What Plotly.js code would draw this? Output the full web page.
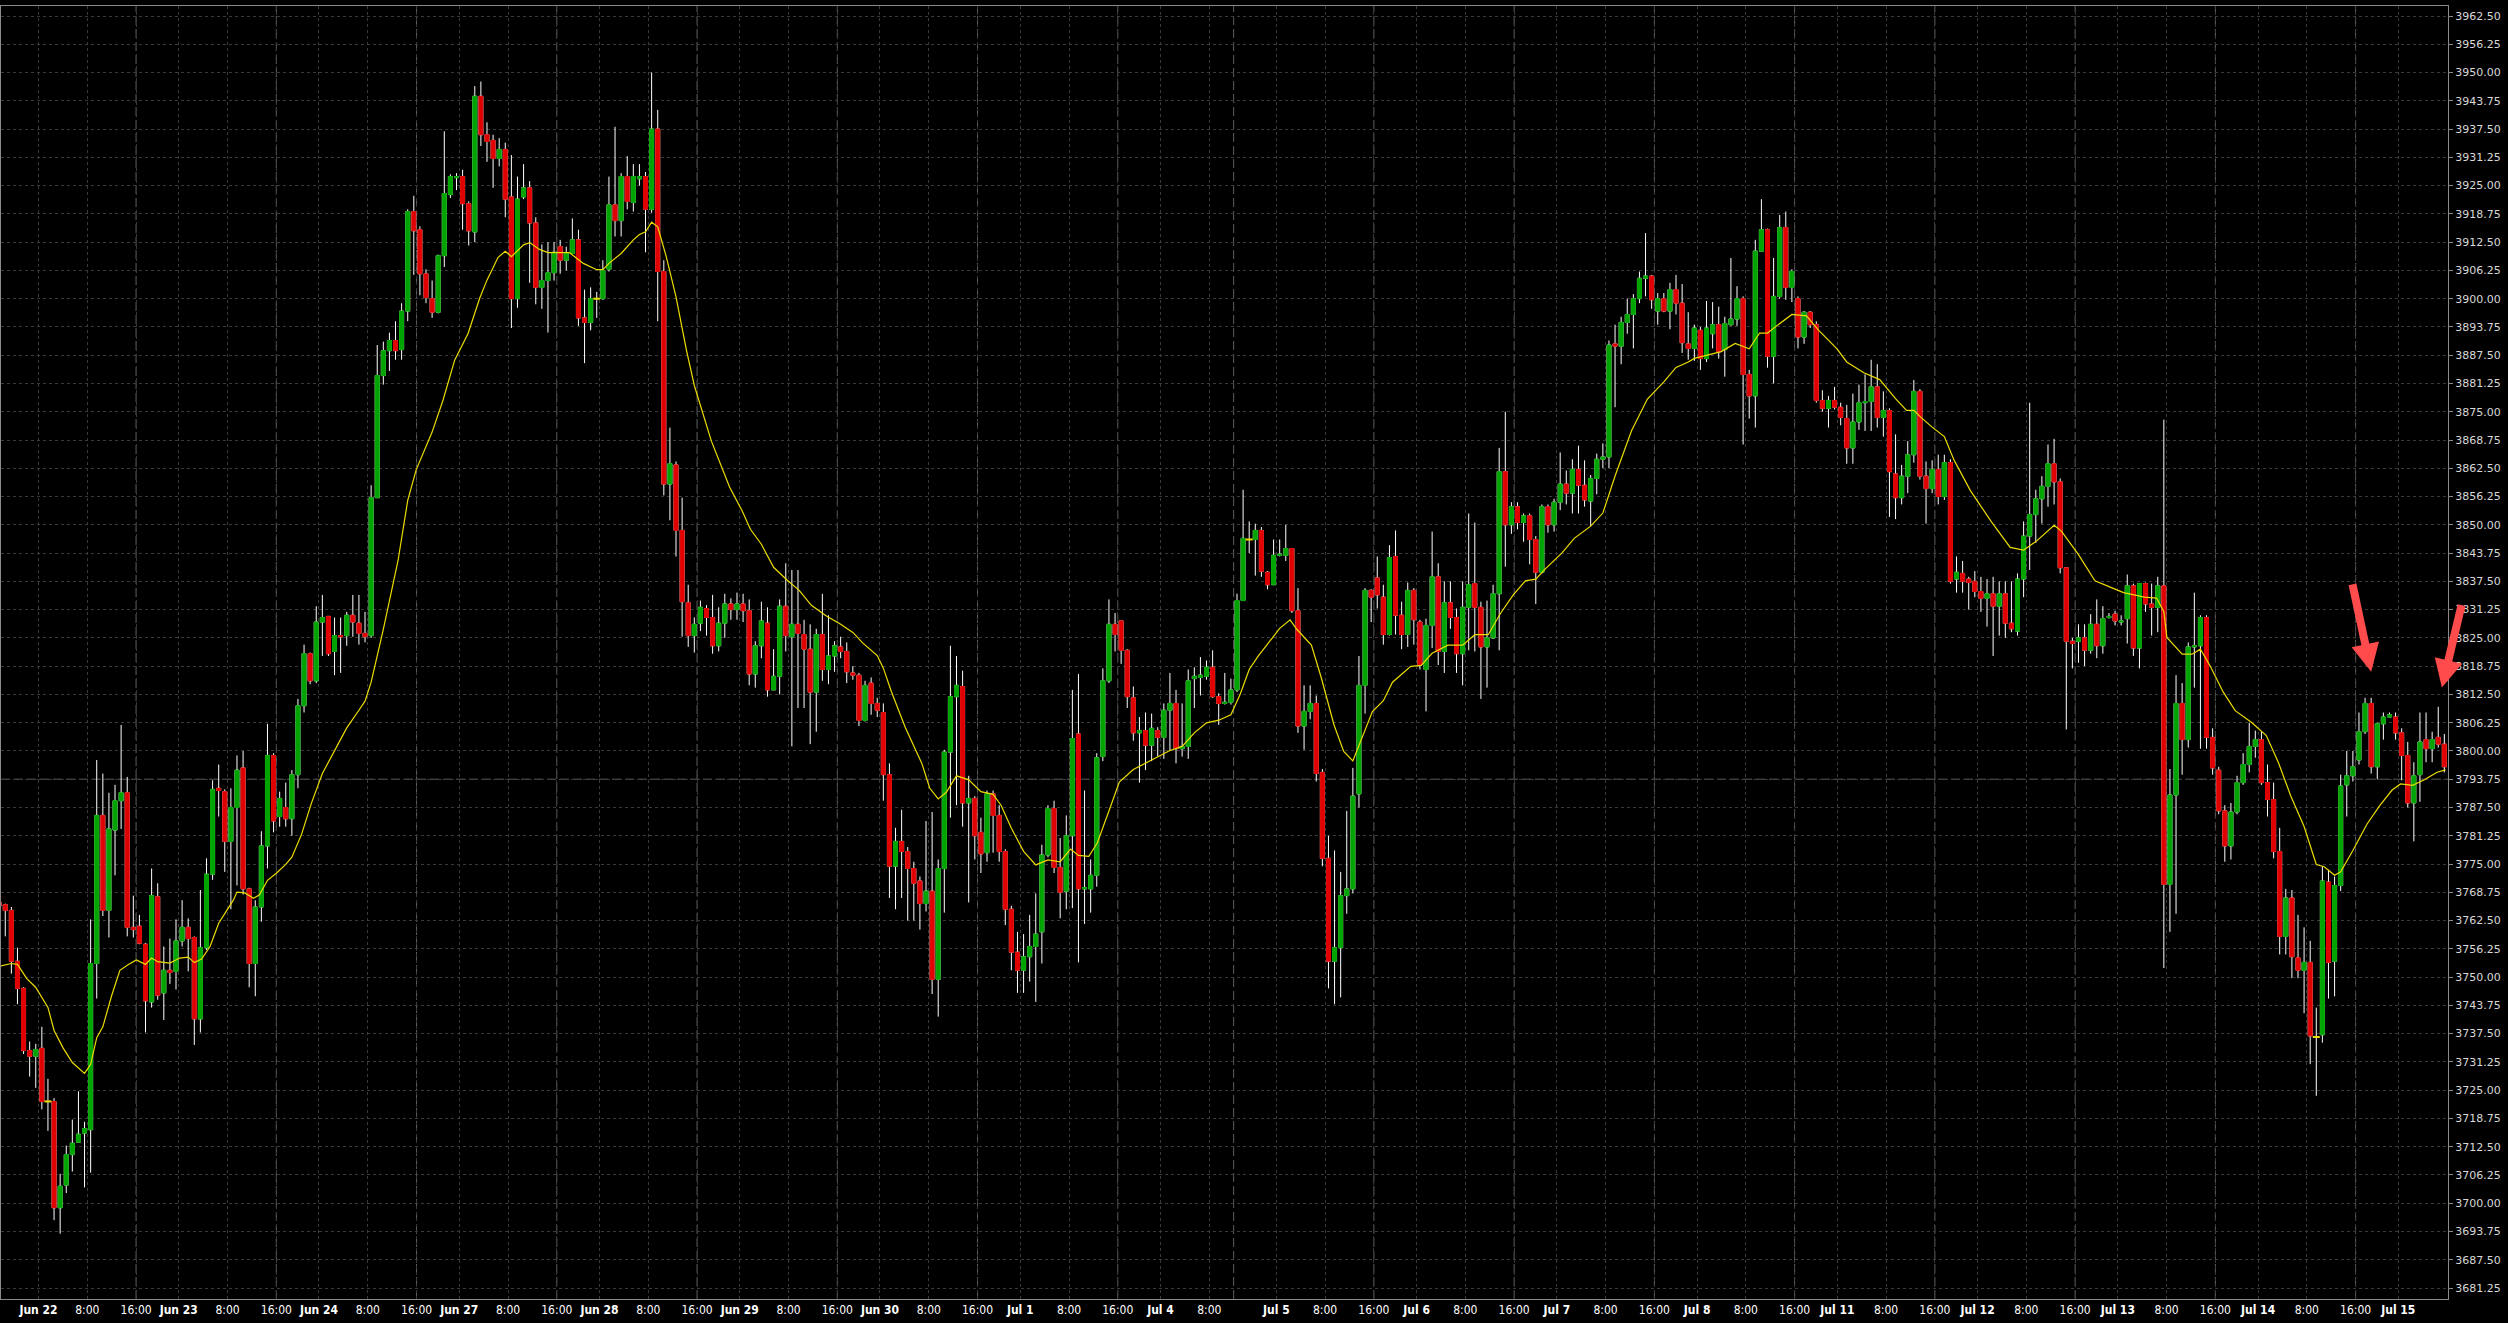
<!DOCTYPE html>
<html><head><meta charset="utf-8">
<script src="https://cdn.plot.ly/plotly-3.0.1.min.js"></script>
<style>html,body{margin:0;padding:0;background:#000;}#chart{width:2508px;height:1323px;}</style>
</head><body><div id="chart"></div>
<script>
// hourly bars, index -1 .. 400
const firstBar = -1;
const openP = [3766.5,
3766.0,3764.75,3753.5,3747.5,3733.75,3732.5,3734.25,3722.5,3722.5,3699.0,
3704.0,3710.75,3713.5,3715.5,3716.25,3753.0,3785.75,3764.75,3782.5,3789.0,
3790.75,3761.0,3761.25,3757.25,3744.5,3767.75,3746.5,3751.5,3751.25,3758.0,
3761.0,3758.75,3740.75,3756.5,3772.75,3791.75,3791.0,3780.0,3787.5,3796.25,
3769.5,3753.0,3765.5,3779.0,3799.0,3785.5,3787.5,3785.0,3794.75,3810.0,
3821.5,3815.5,3828.5,3829.75,3822.0,3825.5,3825.5,3830.0,3828.25,3826.0,
3825.5,3856.0,3883.0,3888.5,3890.75,3888.75,3897.25,3919.25,3915.25,3905.5,
3900.0,3897.0,3909.5,3923.0,3926.75,3927.0,3921.0,3914.75,3944.75,3936.25,
3935.0,3931.0,3933.0,3922.5,3900.0,3922.5,3924.5,3916.75,3902.5,3904.0,
3905.75,3911.5,3908.5,3910.0,3913.0,3895.75,3894.75,3900.0,3900.0,3906.5,
3920.75,3917.25,3927.0,3921.25,3926.5,3927.0,3919.75,3937.5,3906.0,3859.0,
3863.25,3848.75,3832.75,3825.5,3828.25,3831.5,3829.5,3823.25,3828.25,3832.5,
3831.25,3832.5,3831.0,3817.0,3823.25,3828.25,3813.5,3816.5,3832.0,3825.25,
3828.0,3825.75,3822.5,3813.0,3825.75,3818.0,3821.0,3823.0,3822.0,3817.25,
3816.75,3806.75,3815.0,3810.5,3808.5,3794.75,3774.5,3780.0,3777.75,3774.0,
3771.25,3766.25,3769.0,3749.5,3774.0,3799.75,3812.0,3814.25,3788.5,3789.5,
3782.0,3777.5,3790.5,3785.75,3777.75,3765.0,3755.5,3751.5,3754.5,3756.75,
3760.0,3777.0,3787.25,3774.25,3769.0,3781.25,3803.75,3769.5,3769.5,3772.5,
3798.75,3815.5,3828.0,3828.75,3822.25,3811.75,3804.0,3804.5,3801.25,3804.5,
3803.0,3809.0,3810.5,3800.5,3801.0,3816.0,3816.25,3816.5,3818.5,3812.0,
3810.5,3810.75,3813.5,3833.25,3846.75,3846.75,3848.75,3839.5,3836.75,3843.25,
3843.25,3844.75,3831.0,3805.5,3808.75,3810.5,3795.25,3776.25,3753.5,3756.5,
3768.0,3769.5,3790.5,3814.5,3835.5,3838.25,3834.0,3825.75,3843.0,3830.0,
3825.75,3835.5,3828.5,3818.0,3827.75,3838.5,3822.0,3832.75,3829.5,3821.5,
3831.75,3837.0,3831.75,3823.0,3825.0,3834.75,3861.75,3850.0,3854.0,3850.5,
3852.0,3846.75,3839.5,3854.0,3850.0,3855.0,3859.0,3857.0,3862.25,3858.75,
3855.25,3860.25,3864.5,3865.0,3890.0,3889.5,3894.75,3896.5,3900.0,3904.5,
3905.0,3897.25,3900.0,3897.25,3902.0,3899.0,3890.0,3889.0,3893.0,3886.75,
3892.25,3894.25,3888.75,3894.25,3895.5,3900.0,3883.25,3878.5,3910.5,3915.25,
3887.25,3900.5,3915.75,3902.5,3900.0,3891.5,3897.0,3894.25,3877.5,3875.75,
3877.5,3876.0,3873.5,3867.0,3872.75,3877.0,3877.25,3880.5,3873.75,3875.25,
3861.25,3856.0,3860.75,3865.5,3879.5,3860.75,3858.0,3862.25,3856.25,3863.75,
3838.0,3839.25,3838.0,3837.5,3835.25,3833.75,3834.75,3832.0,3834.75,3828.25,
3826.5,3838.0,3847.5,3852.25,3855.75,3858.5,3863.5,3859.5,3840.5,3824.25,
3824.25,3825.0,3822.25,3828.0,3823.25,3829.5,3830.25,3828.5,3829.25,3836.5,
3822.75,3837.0,3832.5,3831.75,3836.5,3770.5,3790.25,3810.5,3802.5,3823.0,
3823.25,3829.5,3803.0,3795.75,3786.75,3779.0,3786.5,3793.0,3797.0,3801.0,
3802.5,3793.0,3789.25,3777.75,3759.0,3767.5,3754.25,3751.5,3753.25,3736.75,
3737.25,3771.0,3753.5,3770.25,3792.5,3794.5,3798.0,3804.25,3810.5,3796.5,
3806.0,3807.5,3807.5,3804.0,3799.0,3788.5,3794.75,3802.5,3800.5,3803.0,
3801.5];
const highP = [3767.0,
3766.25,3765.5,3756.5,3747.75,3735.75,3735.25,3739.0,3727.5,3723.25,3706.5,
3712.75,3718.5,3724.75,3718.0,3762.75,3798.0,3795.0,3790.75,3792.5,3805.75,
3794.25,3768.0,3763.75,3757.5,3774.0,3770.75,3756.75,3758.5,3762.75,3767.0,
3763.0,3759.0,3769.25,3776.25,3793.5,3797.0,3791.5,3791.75,3799.0,3800.0,
3769.75,3767.0,3782.25,3806.0,3799.5,3791.0,3793.0,3795.75,3811.5,3823.5,
3821.75,3832.0,3834.5,3829.75,3829.5,3829.5,3830.75,3834.5,3834.5,3830.75,
3858.75,3889.75,3890.5,3892.5,3895.0,3899.0,3919.75,3922.75,3916.0,3906.5,
3904.0,3909.75,3937.0,3927.5,3927.75,3928.5,3921.5,3947.0,3948.0,3939.0,
3936.25,3935.5,3934.5,3931.75,3927.0,3929.75,3926.0,3918.0,3912.0,3912.5,
3912.5,3913.0,3911.5,3917.75,3915.25,3902.0,3902.5,3901.5,3908.5,3927.0,
3938.0,3927.75,3931.5,3929.75,3929.75,3928.0,3950.0,3941.75,3908.5,3871.5,
3864.0,3856.0,3836.75,3829.5,3833.25,3832.25,3834.5,3831.75,3834.75,3833.75,
3835.0,3834.75,3833.5,3824.25,3833.0,3831.75,3822.5,3833.5,3841.5,3840.0,
3840.0,3829.0,3828.0,3827.0,3834.75,3830.0,3824.25,3825.25,3824.0,3818.75,
3817.25,3815.5,3816.25,3811.75,3810.5,3797.25,3783.0,3787.0,3778.75,3775.5,
3772.25,3784.5,3786.5,3776.0,3800.25,3823.25,3821.0,3817.75,3794.5,3790.0,
3785.25,3791.25,3791.25,3788.0,3778.25,3765.75,3760.0,3759.5,3763.75,3768.5,
3779.25,3788.0,3789.0,3780.75,3785.75,3813.5,3817.0,3791.25,3776.0,3799.5,
3818.25,3833.5,3830.5,3828.75,3822.5,3814.25,3807.5,3808.5,3808.25,3805.25,
3810.5,3817.25,3813.5,3810.5,3818.0,3818.5,3820.75,3820.0,3822.25,3812.75,
3817.25,3816.0,3834.75,3857.75,3850.75,3850.25,3849.5,3839.75,3846.75,3846.75,
3850.0,3844.75,3836.0,3814.5,3814.5,3812.25,3796.0,3781.25,3778.0,3773.25,
3786.75,3796.25,3821.0,3836.0,3835.75,3843.0,3836.75,3845.5,3848.75,3833.0,
3837.25,3836.0,3829.0,3829.25,3848.5,3841.5,3837.5,3837.5,3831.5,3837.5,
3852.5,3850.5,3833.0,3833.25,3836.75,3867.0,3875.0,3855.0,3855.0,3852.5,
3852.5,3847.5,3854.5,3854.5,3855.75,3866.0,3862.0,3864.5,3867.5,3864.25,
3861.0,3865.75,3868.0,3890.75,3894.25,3896.0,3900.0,3901.0,3906.0,3914.5,
3905.25,3901.25,3901.25,3903.5,3905.25,3903.25,3897.0,3894.25,3893.75,3899.5,
3899.25,3898.25,3896.0,3909.0,3902.75,3900.5,3884.25,3913.0,3922.0,3915.5,
3909.0,3918.5,3919.25,3906.5,3900.5,3897.25,3897.25,3895.0,3879.75,3878.5,
3880.5,3877.0,3876.5,3879.0,3881.0,3883.25,3886.5,3885.5,3879.5,3875.75,
3870.0,3863.25,3868.5,3882.0,3880.0,3864.0,3864.25,3865.5,3865.5,3864.5,
3843.0,3842.0,3838.5,3839.75,3838.5,3838.0,3838.5,3837.5,3837.5,3837.5,
3839.25,3850.75,3877.0,3857.75,3860.75,3867.75,3869.0,3860.25,3840.5,3825.0,
3828.0,3828.0,3830.25,3833.5,3832.0,3830.5,3831.0,3830.0,3839.0,3837.0,
3837.0,3837.25,3837.0,3838.5,3873.25,3796.0,3816.75,3815.0,3824.0,3835.0,
3830.0,3830.0,3805.0,3796.5,3788.0,3788.5,3794.5,3799.5,3806.25,3804.5,
3804.25,3797.0,3793.0,3783.0,3769.5,3769.25,3763.75,3761.0,3758.0,3743.25,
3774.5,3773.75,3772.25,3794.75,3800.0,3800.0,3808.5,3811.75,3811.75,3806.25,
3808.5,3808.5,3808.5,3805.0,3802.0,3797.5,3808.5,3808.5,3804.25,3809.75,
3803.75];
const lowP = [3765.5,
3759.0,3750.75,3744.0,3733.0,3728.0,3725.5,3720.75,3716.0,3696.25,3693.25,
3702.25,3707.0,3713.5,3703.5,3706.75,3745.25,3763.5,3758.75,3772.5,3782.75,
3759.0,3758.75,3757.25,3737.75,3743.25,3745.0,3740.5,3748.5,3747.25,3756.75,
3751.25,3735.0,3737.75,3756.0,3771.5,3785.5,3773.25,3765.0,3770.25,3768.25,
3747.75,3745.75,3762.25,3774.0,3782.0,3783.25,3783.25,3781.25,3791.75,3808.5,
3814.75,3815.0,3821.0,3821.0,3816.75,3817.25,3823.25,3825.25,3823.5,3824.0,
3825.0,3856.0,3881.0,3884.0,3886.5,3886.5,3895.0,3905.25,3900.75,3899.0,
3895.75,3896.75,3907.0,3922.25,3924.0,3915.25,3911.75,3912.5,3933.75,3930.25,
3924.5,3929.25,3918.0,3893.5,3898.0,3922.0,3903.5,3898.75,3897.75,3892.5,
3904.0,3905.5,3906.25,3909.75,3894.0,3885.75,3893.0,3895.75,3899.75,3906.0,
3913.75,3913.75,3919.75,3919.25,3925.0,3910.25,3919.0,3895.0,3856.5,3851.0,
3843.0,3825.25,3823.0,3821.75,3826.5,3825.5,3821.5,3822.0,3825.0,3829.0,
3829.0,3828.5,3814.5,3814.0,3820.5,3812.0,3813.5,3812.5,3822.0,3801.0,
3809.5,3809.5,3801.5,3804.25,3815.5,3814.75,3817.5,3820.5,3815.0,3815.75,
3805.5,3806.5,3808.0,3807.5,3789.0,3767.5,3765.0,3767.5,3762.5,3762.5,
3760.5,3764.5,3746.25,3741.25,3764.25,3785.25,3788.0,3783.25,3766.5,3776.0,
3773.0,3775.5,3777.5,3775.5,3761.5,3751.5,3746.5,3746.5,3749.0,3744.5,
3753.0,3776.5,3773.0,3763.0,3765.0,3765.25,3753.25,3761.75,3764.25,3770.0,
3797.75,3815.0,3822.0,3819.25,3809.5,3802.25,3793.0,3795.75,3797.75,3798.75,
3798.25,3800.0,3797.25,3798.75,3798.25,3809.5,3812.25,3815.75,3811.75,3805.75,
3810.25,3810.25,3813.0,3833.25,3843.75,3838.75,3838.5,3835.75,3836.75,3843.0,
3842.0,3830.5,3804.0,3800.25,3807.0,3793.25,3774.5,3747.5,3744.0,3745.5,
3764.0,3768.5,3787.5,3808.25,3828.5,3831.5,3823.5,3825.5,3825.75,3822.5,
3823.0,3823.5,3818.0,3808.75,3822.75,3819.0,3817.25,3827.0,3817.25,3814.5,
3822.25,3822.0,3811.5,3814.0,3824.75,3822.25,3840.75,3848.0,3849.0,3846.25,
3841.25,3832.5,3839.25,3848.25,3848.5,3853.25,3854.5,3852.5,3852.5,3854.0,
3849.75,3856.75,3862.5,3862.5,3876.0,3885.5,3892.25,3889.0,3899.0,3900.5,
3897.75,3894.25,3897.0,3893.25,3896.5,3888.0,3886.5,3886.25,3884.25,3886.0,
3889.0,3886.75,3882.75,3894.0,3894.0,3867.75,3873.5,3871.5,3910.5,3884.75,
3881.25,3900.0,3899.75,3899.25,3889.0,3890.0,3893.5,3877.0,3875.0,3871.5,
3875.5,3872.0,3863.5,3863.5,3871.0,3870.75,3870.75,3871.5,3869.5,3851.75,
3851.25,3854.5,3857.0,3863.75,3860.0,3850.25,3857.0,3854.5,3855.5,3837.0,
3835.0,3835.0,3831.25,3834.0,3830.75,3827.5,3821.0,3825.5,3825.0,3826.25,
3825.5,3834.0,3840.0,3846.0,3850.25,3854.0,3854.5,3839.25,3804.75,3818.25,
3819.5,3818.75,3821.5,3820.5,3821.5,3829.25,3827.75,3827.75,3823.75,3821.0,
3818.25,3830.75,3825.5,3826.25,3752.0,3760.0,3764.0,3794.75,3800.75,3814.0,
3800.5,3800.5,3794.75,3786.0,3775.5,3776.0,3786.0,3792.5,3795.25,3798.5,
3792.5,3785.5,3776.25,3755.0,3755.0,3749.75,3749.75,3742.0,3730.75,3723.75,
3735.5,3745.25,3745.75,3769.0,3785.5,3793.25,3797.0,3803.75,3795.0,3793.75,
3802.5,3807.5,3802.5,3793.5,3787.5,3780.0,3788.75,3797.5,3797.5,3800.75,
3795.25];
const closeP = [3765.75,
3764.75,3753.5,3747.5,3733.75,3732.5,3734.0,3722.5,3722.5,3699.0,3703.75,
3710.75,3713.25,3715.25,3716.5,3753.0,3785.75,3764.75,3782.75,3789.0,3790.75,
3761.0,3760.5,3757.5,3744.75,3768.0,3746.0,3751.5,3751.0,3758.0,3761.0,
3758.5,3740.75,3756.5,3772.75,3791.5,3791.25,3780.0,3787.5,3795.75,3769.5,
3753.0,3765.5,3779.0,3799.0,3784.5,3789.5,3785.0,3794.75,3810.0,3821.5,
3815.5,3828.5,3829.5,3821.5,3825.5,3825.25,3830.0,3828.5,3826.0,3825.25,
3856.0,3883.0,3888.5,3890.75,3888.5,3897.25,3919.25,3915.0,3905.5,3900.25,
3897.0,3909.5,3923.25,3927.0,3927.0,3921.0,3915.0,3944.75,3936.25,3934.75,
3931.0,3933.0,3922.0,3900.0,3922.0,3924.5,3916.75,3902.5,3904.0,3905.75,
3910.25,3908.5,3910.0,3913.0,3895.75,3894.75,3900.0,3900.0,3906.25,3920.75,
3917.25,3927.0,3921.5,3927.0,3927.0,3919.75,3937.5,3906.0,3859.0,3863.5,
3848.75,3833.0,3825.5,3828.0,3831.75,3829.5,3823.25,3828.25,3832.5,3831.25,
3832.5,3831.0,3817.0,3823.25,3828.75,3813.5,3816.5,3832.0,3825.5,3828.0,
3826.0,3822.5,3813.0,3825.75,3818.0,3821.0,3823.25,3822.0,3817.5,3816.75,
3806.75,3814.5,3810.5,3809.0,3794.75,3774.5,3780.0,3777.75,3774.0,3770.75,
3766.25,3769.0,3749.5,3774.0,3799.75,3812.0,3814.5,3788.5,3789.5,3781.25,
3777.25,3790.5,3785.75,3777.75,3765.0,3755.5,3751.5,3754.5,3756.75,3759.5,
3777.0,3787.25,3774.25,3768.75,3781.25,3802.75,3769.5,3769.75,3772.5,3798.5,
3815.5,3828.0,3825.75,3822.25,3812.0,3804.0,3804.5,3801.25,3805.0,3803.0,
3809.0,3810.5,3800.5,3801.0,3815.5,3816.5,3816.75,3818.5,3812.0,3810.5,
3810.75,3813.5,3833.25,3847.0,3846.75,3848.75,3839.75,3836.75,3843.25,3843.5,
3844.75,3831.0,3805.5,3808.75,3810.5,3795.0,3776.25,3753.5,3756.5,3768.0,
3769.5,3790.0,3814.5,3835.5,3834.0,3834.5,3825.75,3842.75,3830.0,3825.75,
3835.5,3829.0,3819.0,3827.75,3838.5,3822.0,3832.75,3829.5,3821.5,3831.75,
3836.75,3831.75,3823.0,3825.0,3834.75,3861.75,3850.0,3854.0,3850.5,3852.0,
3846.75,3839.5,3854.0,3850.0,3855.0,3859.0,3857.0,3862.25,3858.75,3855.5,
3860.25,3864.5,3865.0,3889.75,3889.5,3894.75,3896.5,3900.0,3904.5,3905.0,
3899.75,3900.0,3897.25,3902.0,3899.0,3890.25,3889.0,3893.5,3886.75,3893.5,
3894.25,3888.25,3894.5,3895.5,3900.0,3883.25,3878.5,3910.5,3915.25,3887.25,
3900.5,3915.75,3902.5,3906.0,3891.5,3897.0,3894.25,3877.5,3875.75,3877.5,
3876.0,3873.75,3867.0,3872.75,3877.0,3877.25,3880.5,3873.75,3875.25,3861.75,
3856.0,3860.75,3865.5,3879.5,3860.75,3858.0,3862.25,3856.25,3863.75,3837.5,
3839.5,3837.5,3837.25,3835.25,3833.75,3834.75,3832.0,3834.75,3828.25,3827.0,
3838.0,3847.5,3852.25,3855.75,3858.5,3863.5,3859.5,3840.5,3824.25,3823.75,
3825.0,3822.25,3828.0,3823.25,3829.25,3829.75,3828.75,3828.75,3836.5,3822.75,
3837.0,3832.5,3831.75,3836.5,3770.5,3790.25,3810.5,3802.5,3823.0,3823.25,
3829.5,3803.0,3796.25,3786.75,3779.0,3786.5,3793.0,3797.0,3801.0,3802.5,
3793.0,3789.25,3777.75,3759.0,3767.5,3754.5,3751.5,3753.25,3737.0,3736.75,
3771.25,3753.25,3770.25,3792.25,3794.5,3796.5,3804.25,3810.5,3796.5,3806.0,
3807.5,3808.0,3804.0,3799.0,3788.5,3794.5,3802.0,3800.5,3802.5,3801.5,
3796.5];

// moving average (bar position, value)
const maBar = [-0.9,1,2,3.5,5,7,8,9.5,11,13,14,15,16,17.4,18.8,20.2,21.5,23,24,25,
27,28.6,30,31,32.2,33.6,35,36.3,37.4,38,39.3,40.7,41.7,43,44.5,46,47,48.6,50.2,52,
54,56,58,59,60,62,64.4,66,67.4,70,71.8,73.7,75.9,77.8,79,80.8,82,83,85,86,
87.6,89,92.5,94.8,97,98,99,101,103,104,105,106,107,108.4,110,111.7,113,115.8,118.8,120.8,
122.2,124,126,128.2,130.2,132.2,134.6,137,139,140.6,143,144,145.3,147.6,150.3,151.6,153,154.3,156,158,
160,162,163.3,165,167,169,171,173,174.7,176,177.7,179.1,181.1,182.7,185,187,189,191,193,195,
197,199,201,202.5,204,205.5,207,209,210.7,211.8,214.2,215.8,217.9,219.5,221,222.5,224.2,226,227.5,230.5,
232.2,234,236.6,239,241,243.2,245.2,247.3,249.3,251,252.6,255.3,257.3,260,262,264,266.7,269.3,272,274,
276,277,279,281.4,283.7,286,287.7,289,290.7,293,295.4,297.4,300.4,302,304.8,307.4,310,311.8,313,314.2,
316,318,319.6,322.3,325.7,328.8,331,333.2,336,337.2,340,342.7,345.4,347.4,350.8,352.8,354,354.5,357,358.6,
360,361.6,363.7,365.7,368.4,370.8,372.8,374.8,377,379,380.3,382,383,385,387.3,389.4,391.4,392.8,394.8,396.8,
398.8,400.2];
const maVal = [3752.4,3753.0,3752.8,3749.7,3747.7,3743.3,3738.2,3734.3,3731.1,3728.7,3730.7,3736.6,3739.0,3745.7,3751.5,3752.8,3753.8,3752.8,3754.2,3753.4,
3753.1,3754.2,3754.4,3753.2,3754.0,3756.8,3761.9,3764.7,3767.0,3768.8,3768.6,3767.4,3768.2,3771.4,3773.0,3774.9,3776.5,3781.6,3788.4,3795.0,
3800.0,3805.1,3809.0,3811.0,3815.2,3826.9,3842.0,3855.4,3862.2,3870.5,3877.6,3886.4,3892.3,3900.1,3904.1,3909.1,3910.5,3909.3,3911.9,3912.4,
3910.9,3910.2,3910.2,3907.8,3906.4,3906.4,3907.8,3910.0,3913.0,3914.2,3914.8,3916.9,3915.9,3909.3,3900.4,3888.7,3880.8,3868.5,3858.3,3853.2,
3849.0,3845.7,3840.6,3837.8,3835.5,3832.2,3829.9,3828.0,3826.2,3823.9,3821.1,3818.3,3813.2,3805.2,3797.3,3791.8,3789.4,3790.8,3794.5,3793.6,
3791.0,3790.4,3788.0,3782.9,3777.8,3774.8,3775.9,3775.5,3778.3,3776.9,3776.7,3779.7,3787.1,3793.1,3795.9,3797.3,3798.7,3800.1,3801.0,3804.0,
3806.2,3806.8,3808.0,3812.5,3818.0,3821.0,3823.6,3827.1,3829.0,3826.9,3823.4,3816.3,3805.8,3799.9,3797.8,3802.9,3808.7,3811.1,3815.2,3818.7,
3818.9,3821.6,3823.4,3823.4,3825.7,3825.7,3830.4,3834.5,3837.6,3838.0,3840.3,3843.8,3847.0,3849.7,3852.6,3860.8,3870.8,3877.8,3881.6,3884.8,
3886.0,3886.8,3887.5,3888.3,3890.1,3888.9,3892.4,3892.4,3894.2,3896.5,3896.2,3893.0,3888.9,3886.0,3883.6,3882.1,3877.9,3875.3,3875.3,3873.7,
3871.6,3869.5,3864.3,3857.5,3850.7,3845.0,3844.4,3846.5,3849.9,3848.6,3843.4,3837.6,3836.1,3835.0,3834.0,3833.8,3830.8,3825.1,3821.4,3821.4,
3822.5,3818.8,3813.1,3808.9,3806.3,3803.4,3797.4,3790.1,3783.3,3774.9,3774.4,3772.5,3773.3,3778.0,3783.8,3787.9,3791.3,3792.7,3792.4,3793.7,
3795.3,3795.8];

// time axis labels (bar index of each labelled hour)
const tickBars = [5,13,21,28,36,44,51,59,67,74,82,90,97,105,113,120,128,136,143,151,159,166,174,182,189,197,
208,216,224,231,239,247,254,262,270,277,285,293,300,308,316,323,331,339,346,354,362,369,377,385,392];
const tickLabels = ['Jun 22','8:00','16:00','Jun 23','8:00','16:00','Jun 24','8:00','16:00','Jun 27','8:00','16:00',
'Jun 28','8:00','16:00','Jun 29','8:00','16:00','Jun 30','8:00','16:00','Jul 1','8:00','16:00','Jul 4','8:00',
'Jul 5','8:00','16:00','Jul 6','8:00','16:00','Jul 7','8:00','16:00','Jul 8','8:00','16:00','Jul 11','8:00','16:00',
'Jul 12','8:00','16:00','Jul 13','8:00','16:00','Jul 14','8:00','16:00','Jul 15'];
// last bar of each session (period separators)
const sessionEnds = [21,44,67,90,113,136,159,182,201,224,247,270,293,316,339,362,385];
const levelLine = 3793.75;
// red arrow markers: tip bar, tip price
const arrowBars = [388.0, 399.6];
const arrowPrices = [3817.5, 3814.0];

const GREEN = '#00a400', RED = '#e00000', MA_COLOR = '#ecdc00';
const TICK_SHIFT = 0.45;

const xs = openP.map((_, i) => firstBar + i);
const bodyHigh = openP.map((o, i) => Math.max(o, closeP[i]));
const bodyLow = openP.map((o, i) => Math.min(o, closeP[i]));
const dojiX = [], dojiY = [];
openP.forEach((o, i) => { if (o === closeP[i]) { dojiX.push(xs[i]); dojiY.push(o); } });

const traces = [
  { type: 'candlestick', x: xs, open: openP, high: highP, low: lowP, close: closeP,
    increasing: { line: { color: '#ffffff', width: 1 }, fillcolor: '#ffffff' },
    decreasing: { line: { color: '#ffffff', width: 1 }, fillcolor: '#ffffff' },
    whiskerwidth: 0, hoverinfo: 'skip', showlegend: false },
  { type: 'candlestick', x: xs, open: openP, high: bodyHigh, low: bodyLow, close: closeP,
    increasing: { line: { color: GREEN, width: 1 }, fillcolor: GREEN },
    decreasing: { line: { color: RED, width: 1 }, fillcolor: RED },
    whiskerwidth: 0, hoverinfo: 'skip', showlegend: false },
  { type: 'scatter', mode: 'lines', x: maBar, y: maVal,
    line: { color: MA_COLOR, width: 1.2 }, hoverinfo: 'skip', showlegend: false },
  { type: 'scatter', mode: 'markers', x: dojiX, y: dojiY,
    marker: { symbol: 'line-ew', size: 5, line: { color: MA_COLOR, width: 2 } },
    hoverinfo: 'skip', showlegend: false }
];

const shapes = sessionEnds.map(b => ({
  type: 'line', xref: 'x', yref: 'paper', x0: b + TICK_SHIFT, x1: b + TICK_SHIFT, y0: 0, y1: 1,
  line: { color: '#5e5e5e', width: 1, dash: '9px,4px' }, layer: 'between'
}));
shapes.push({ type: 'line', xref: 'paper', yref: 'y', x0: 0, x1: 1, y0: levelLine, y1: levelLine,
  line: { color: '#5e5e5e', width: 1, dash: '9px,4px' }, layer: 'between' });

const arrowTails = [[-19, -89], [20, -84]];
const annotations = arrowBars.map((b, k) => ({
  x: b, y: arrowPrices[k], xref: 'x', yref: 'y', text: '', showarrow: true,
  ax: arrowTails[k][0], ay: arrowTails[k][1],
  arrowhead: 2, arrowsize: 0.7, arrowwidth: 8, arrowcolor: '#ff4b4b', standoff: 0
}));

const layout = {
  width: 2508, height: 1323,
  margin: { l: 1, r: 60, t: 6, b: 24, pad: 0 },
  paper_bgcolor: '#000000', plot_bgcolor: '#000000',
  showlegend: false, hovermode: false,
  boxgap: 0.2, boxgroupgap: 0.18,
  xaxis: {
    range: [-0.7, 400.6], tickmode: 'array',
    tickvals: tickBars.map(b => b + TICK_SHIFT),
    ticktext: tickLabels.map(t => t.indexOf(':') >= 0 ? t : '<b>' + t + '</b>'),
    showgrid: true, gridcolor: '#3a3a3a', griddash: '3px,3px', gridwidth: 1,
    zeroline: false, showline: true, linecolor: '#8a8a8a', linewidth: 1, mirror: true,
    ticks: '', tickangle: 0,
    tickfont: { family: 'DejaVu Sans Condensed, DejaVu Sans, sans-serif', size: 12, color: '#ffffff' },
    rangeslider: { visible: false }, fixedrange: true
  },
  yaxis: {
    side: 'right', range: [3678.82, 3964.71], tick0: 0, dtick: 6.25, tickformat: '.2f',
    showgrid: true, gridcolor: '#3a3a3a', griddash: '3px,3px', gridwidth: 1,
    zeroline: false, showline: true, linecolor: '#8a8a8a', linewidth: 1, mirror: true,
    ticks: 'outside', ticklen: 4, tickcolor: '#8a8a8a',
    tickfont: { family: 'DejaVu Sans, sans-serif', size: 11, color: '#d8d8d8' },
    fixedrange: true
  },
  shapes: shapes,
  annotations: annotations
};

Plotly.newPlot('chart', traces, layout, { displayModeBar: false, staticPlot: true });
</script>
</body></html>
